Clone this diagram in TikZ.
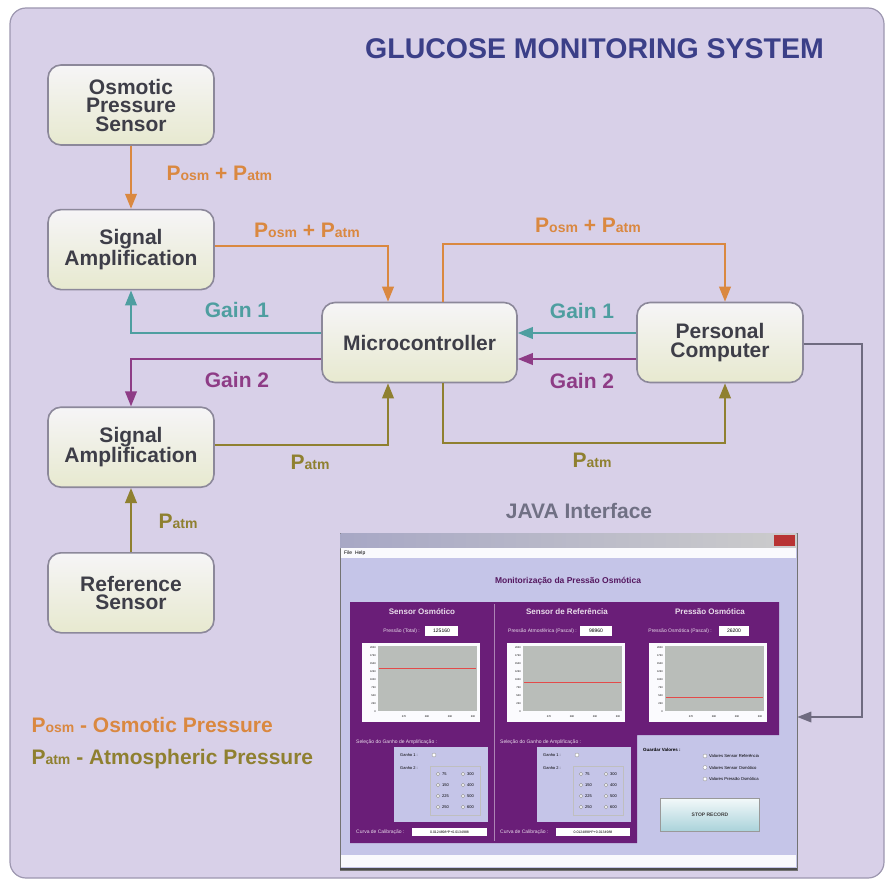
\documentclass[tikz,border=0pt]{standalone}
\usepackage{fontspec}
\setmainfont{Liberation Sans}
\usepackage{xcolor}
\definecolor{gbg}{HTML}{D8D0E8}
\definecolor{gframe}{HTML}{9D97B0}
\definecolor{gtitle}{HTML}{3B3F88}
\definecolor{gtext}{HTML}{3E3E48}
\definecolor{gedge}{HTML}{8C889A}
\definecolor{gtop}{HTML}{F6F5F7}
\definecolor{gbot}{HTML}{E7E9CF}
\definecolor{gorange}{HTML}{DA8840}
\definecolor{gteal}{HTML}{4E9EA0}
\definecolor{gpurple}{HTML}{8E3C86}
\definecolor{golive}{HTML}{8F8030}
\definecolor{ggray}{HTML}{6F6B80}
\definecolor{gjava}{HTML}{707084}
\definecolor{gwin}{HTML}{C5C5E8}
\definecolor{gpanel}{HTML}{6A1E78}
\definecolor{gplot}{HTML}{B9BDB9}
\definecolor{gbtn}{HTML}{A9D2DA}
\usepackage{tikz}
\usetikzlibrary{arrows.meta,positioning,calc}
\newcommand{\Posm}{P{\fontsize{14}{14}\selectfont osm}}
\newcommand{\Patm}{P{\fontsize{14}{14}\selectfont atm}}

\begin{document}
\begin{tikzpicture}[x=1pt,y=-1pt,font=\bfseries\fontsize{21}{18.5}\selectfont,
  blk/.style={rectangle,rounded corners=13pt,draw=gedge,line width=1.6pt,top color=gtop,bottom color=gbot,text=gtext,align=center,minimum width=166pt,minimum height=80pt,inner sep=2pt},
  arr/.style={-{Triangle[length=15pt,width=11.5pt]},line width=2.2pt},
  ui/.style={font=\fontsize{5}{6}\selectfont,inner sep=0pt},
  uihead/.style={font=\bfseries\fontsize{8}{9}\selectfont,inner sep=0pt,text=white!85!gpanel},
  radio/.style={circle,draw=black!40,fill=white,inner sep=0pt,minimum size=4pt}]
\useasboundingbox (0,0) rectangle (888,883);
\fill[white] (0,0) rectangle (888,883);
\draw[gframe,fill=gbg,rounded corners=16pt,line width=1.2pt] (10,8) rectangle (884,878);
\node[gtitle,font=\bfseries\fontsize{28.5}{30}\selectfont] (title) at (594.5,49) {GLUCOSE MONITORING SYSTEM};
\node[blk] (osm) at (131,105) {Osmotic\\Pressure\\Sensor};
\node[blk,below=63pt of osm] (amp1) {Signal\\Amplification};
\node[blk,below=116pt of amp1] (amp2) {Signal\\Amplification};
\node[blk,below=64pt of amp2] (ref) {Reference\\Sensor};
\node[blk,minimum width=195pt] (mcu) at (419.5,342.5) {Microcontroller};
\node[blk] (pc) at (720,342.5) {Personal\\Computer};
\node[draw=black!55,fill=gwin,line width=0.6pt,minimum width=457pt,minimum height=337pt,inner sep=0pt] (gui) at (568.5,701.5) {};
\node[gjava] (java) at (579,511) {JAVA Interface};
\draw[arr,gorange] (osm) -- (amp1);
\draw[arr,gorange] ([yshift=4pt]amp1.east) -| ([xshift=-31.5pt]mcu.north);
\draw[arr,gteal] ([yshift=9.5pt]mcu.west) -| (amp1.south);
\draw[arr,gpurple] ([yshift=-16.5pt]mcu.west) -| (amp2.north);
\draw[arr,golive] (ref) -- (amp2);
\draw[arr,golive] ([yshift=2pt]amp2.east) -| ([xshift=-31.5pt]mcu.south);
\draw[arr,gorange] ([xshift=23.5pt]mcu.north) |- ([xshift=5pt,yshift=58pt]pc.north) -- ([xshift=5pt]pc.north);
\draw[arr,golive] ([xshift=23.5pt]mcu.south) |- ([xshift=5pt,yshift=-60pt]pc.south) -- ([xshift=5pt]pc.south);
\draw[arr,gteal] ([yshift=9.5pt]pc.west) -- ([yshift=9.5pt]mcu.east);
\draw[arr,gpurple] ([yshift=-16.5pt]pc.west) -- ([yshift=-16.5pt]mcu.east);
\draw[arr,ggray,line width=1.8pt,-{Triangle[length=14pt,width=10.5pt]}] ([yshift=-1.5pt]pc.east) -- ++(58,0) |- ([yshift=-15.5pt]gui.east);
\node[gorange,anchor=west] (l1) at (163,173) {\Posm\ + \Patm};
\node[gorange] (l2) at (307,230) {\Posm\ + \Patm};
\node[gorange] (l3) at (588,225) {\Posm\ + \Patm};
\node[gteal] (g1a) at (237,310) {Gain 1};
\node[gteal] (g1b) at (582,311) {Gain 1};
\node[gpurple] (g2a) at (237,380) {Gain 2};
\node[gpurple] (g2b) at (582,381) {Gain 2};
\node[golive] (p1) at (310,462) {\Patm};
\node[golive] (p2) at (592,460) {\Patm};
\node[golive] (p3) at (178,521) {\Patm};
\node[gorange,anchor=west] (key1) at (28,725) {\Posm\ - Osmotic Pressure};
\node[golive,anchor=west] (key2) at (28,759) {\Patm\ - Atmospheric Pressure};
\shade[left color=black!15!gwin,middle color=gpanel!70!white,right color=black!20!white] (340.5,533.5) rectangle (796.5,548);
\fill[red!65!black!80!white] (774,535) rectangle (795,546);
\fill[white!92!gwin] (341,548) rectangle (796,558);
\node[ui,anchor=west] (menu) at (344,553) {File\ \ Help};
\fill[white!90!gwin] (341,855) rectangle (796,867);
\draw[black!70,line width=1.5pt] (340,869) -- (797,869);
\node[ui,font=\bfseries\fontsize{8.5}{9}\selectfont,text=gpanel!80!black] (head) at (568,581) {Monitorização da Pressão Osmótica};
\fill[gpanel] (350,602) -- (779,602) -- (779,735) -- (637,735) -- (637,843) -- (350,843) -- cycle;
\draw[gpanel!55!white,line width=0.8pt] (494,604) -- (494,841);
\node[uihead] (h1) at (422,612) {Sensor Osmótico};
\node[uihead] (h2) at (567,612) {Sensor de Referência};
\node[uihead] (h3) at (710,612) {Pressão Osmótica};
\node[ui,text=white!85!gpanel,anchor=east] at (420,631) {Pressão (Total) :};
\node[ui,text=white!85!gpanel,anchor=east] at (577,631) {Pressão Atmosférica (Pascal) :};
\node[ui,text=white!85!gpanel,anchor=east] at (712,631) {Pressão Osmótica (Pascal) :};
\node[ui,fill=white,minimum width=33pt,minimum height=10pt] (v1) at (441.5,631) {125160};
\node[ui,fill=white,minimum width=32pt,minimum height=10pt] (v2) at (596,631) {98960};
\node[ui,fill=white,minimum width=30pt,minimum height=10pt] (v3) at (734,631) {26200};
\foreach \cx/\ry in {362/668,507/682,649/697}{
  \fill[white!94!gwin] (\cx,643) rectangle (\cx+118,722);
  \fill[gplot] (\cx+16,646) rectangle (\cx+115,711);
  \draw[red!60!gplot,line width=0.8pt] (\cx+17,\ry) -- (\cx+114,\ry);
  \foreach \t [count=\i] in {2000,1750,1500,1250,1000,750,500,250,0}
    \node[ui,font=\fontsize{2.6}{3}\selectfont,anchor=east] at (\cx+14,{648+(\i-1)*8}) {\t};
  \foreach \t [count=\i] in {270,280,290,300}
    \node[ui,font=\fontsize{2.6}{3}\selectfont] at ({\cx+19+\i*23},717) {\t};
}
\foreach \bx/\lx in {394/356,537/500}{
  \node[ui,text=white!85!gpanel,anchor=west] at (\lx,742) {Seleção do Ganho de Amplificação :};
  \fill[gwin] (\bx,747) rectangle (\bx+94,822);
  \draw[black!25] (\bx+36,766) rectangle (\bx+86,815);
  \node[ui,font=\fontsize{4}{5}\selectfont,anchor=west] at (\bx+6,755) {Ganho 1 :};
  \node[ui,font=\fontsize{4}{5}\selectfont,anchor=west] at (\bx+6,768) {Ganho 2 :};
  \node[radio] at (\bx+40,755) {};
  \foreach \ga/\gb [count=\i] in {75/300,150/400,225/500,250/600}{
    \node[radio,minimum size=3.5pt] at (\bx+44,{774+(\i-1)*11}) {};
    \node[ui,font=\fontsize{4}{5}\selectfont,anchor=west] at (\bx+48,{774+(\i-1)*11}) {\ga};
    \node[radio,minimum size=3.5pt] at (\bx+69,{774+(\i-1)*11}) {};
    \node[ui,font=\fontsize{4}{5}\selectfont,anchor=west] at (\bx+73,{774+(\i-1)*11}) {\gb};
  }
  \node[ui,text=white!85!gpanel,anchor=west] at (\lx,832) {Curva de Calibração :};
  \fill[white] (\lx+56,828) rectangle (\bx+93,836);
  \node[ui,font=\fontsize{3.5}{4}\selectfont] at ({(\lx+56+\bx+93)/2},832) {0.0124898*P+0.0134988};
}
\node[ui,font=\bfseries\fontsize{4.5}{5}\selectfont,anchor=west] (keep) at (643,750) {Guardar Valores :};
\foreach \o [count=\i] in {Valores Sensor Referência,Valores Sensor Osmótico,Valores Pressão Osmótica}{
  \node[radio] at (705,{756+(\i-1)*11.5}) {};
  \node[ui,font=\fontsize{4.2}{5}\selectfont,anchor=west] at (709,{756+(\i-1)*11.5}) {\o};
}
\node[draw=black!40,top color=white!85!gbtn,bottom color=gbtn,minimum width=99pt,minimum height=33pt,inner sep=0pt,font=\bfseries\fontsize{5}{6}\selectfont,text=black!75] (stop) at (710,815) {STOP RECORD};
\end{tikzpicture}
\end{document}
